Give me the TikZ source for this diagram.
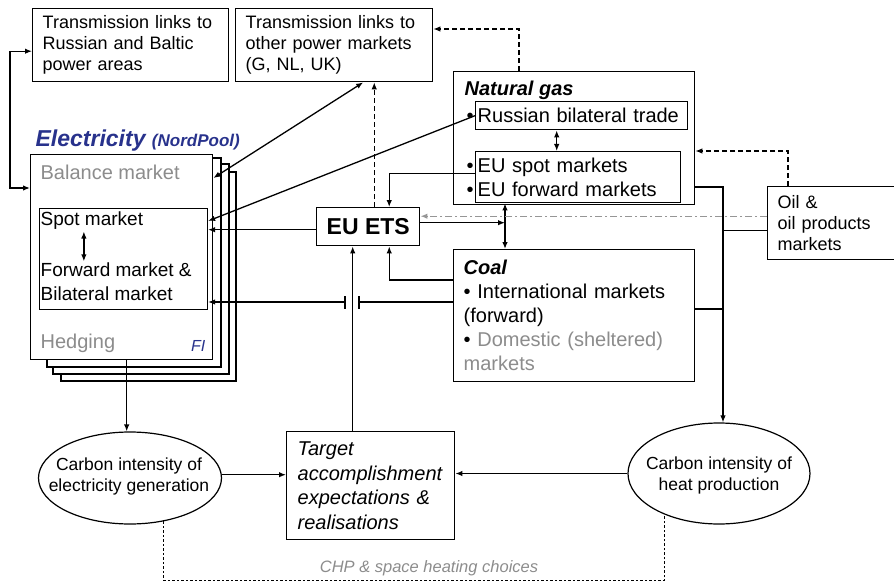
\documentclass[tikz,border=0pt]{standalone}
\usepackage{fontspec}
\setmainfont{Liberation Sans}
\usetikzlibrary{arrows.meta,shapes.geometric}

\definecolor{poolblue}{RGB}{40,50,140}
\definecolor{softgray}{RGB}{140,140,140}
\definecolor{etsgray}{RGB}{150,150,150}

\newcommand{\gasbullet}{\leavevmode\llap{\textbullet\hspace{4pt}}}

\tikzset{
  box/.style={draw,fill=white,line width=1.4pt,anchor=north west,
              inner xsep=10pt,inner ysep=0pt,align=left},
  oval/.style={draw,ellipse,line width=1.2pt,inner sep=0pt},
  hint/.style={dash pattern=on 5pt off 3pt,line width=1.1pt},
  dotline/.style={dash pattern=on 2.5pt off 2pt,line width=1.1pt},
  aside/.style={etsgray,dash pattern=on 7pt off 3pt on 2pt off 3pt,line width=1.2pt},
}

\begin{document}
\begin{tikzpicture}[x=1pt,y=-1pt,line width=1.3pt,
    >={Latex[length=7pt,width=5.5pt]},
    font=\fontsize{18pt}{21pt}\selectfont]
\useasboundingbox (0,0) rectangle (894,583);

% sheets behind the electricity box
\foreach \xa/\ya/\xb/\yb in {61/172/236/381,53/164/229/374,47/158/221/367}
  \draw[fill=white,line width=1.4pt] (\xa,\ya) rectangle (\xb,\yb);

\begin{scope}[every node/.style={box}]
    \node[minimum width=196pt,minimum height=73pt,text width=176pt] (linkRB) at (32,8)
        {Transmission links to\\Russian and Baltic\\power areas};
    \node[minimum width=197pt,minimum height=73pt,text width=177pt] (linkOther) at (235,8)
        {Transmission links to\\other power markets\\(G, NL, UK)};
    \node[minimum width=182pt,minimum height=205pt] (elec) at (30,154) {};
    \node[minimum width=168pt,minimum height=101pt,line width=1.1pt] (spotBox) at (39,208) {};
    \node[minimum width=241pt,minimum height=133pt] (gas) at (453,71) {};
    \node[minimum width=212pt,minimum height=28pt,inner xsep=2pt,text width=208pt,
          font=\fontsize{20pt}{24pt}\selectfont] (rusTrade) at (475,101)
        {\gasbullet Russian bilateral trade};
    \node[minimum width=205pt,minimum height=51pt,inner xsep=2pt,text width=201pt,
          font=\fontsize{20pt}{24pt}\selectfont] (euMkt) at (475,151)
        {\gasbullet EU spot markets\\\gasbullet EU forward markets};
    \node[minimum width=241pt,minimum height=132pt,text width=221pt,
          font=\fontsize{20pt}{24pt}\selectfont] (coal) at (453,249)
        {\textbf{\textit{Coal}}\\\textbullet\ International markets\\(forward)\\
         \textbullet\ \textcolor{softgray}{Domestic (sheltered)}\\\textcolor{softgray}{markets}};
    \node[minimum width=132pt,minimum height=73pt,text width=112pt,inner xsep=9pt] (oil) at (767,186)
        {Oil \&\\oil products\\markets};
    \node[minimum width=102pt,minimum height=38pt,align=center,
          font=\fontsize{23pt}{23pt}\selectfont\bfseries] (ets) at (316,207) {EU ETS};
    \node[minimum width=168pt,minimum height=108pt,text width=146pt,inner xsep=11pt,
          font=\fontsize{20pt}{24.5pt}\selectfont\itshape] (target) at (286,431)
        {Target\\accomplishment\\expectations \&\\realisations};
\end{scope}

\begin{scope}[every node/.style={anchor=west,inner sep=1pt}]
    \node[text=poolblue] (elecTitle) at (34,141)
        {\fontsize{23pt}{23pt}\selectfont\bfseries\itshape Electricity
         \fontsize{17pt}{17pt}\selectfont(NordPool)};
    \node[text=softgray,font=\fontsize{20pt}{24pt}\selectfont] (balance) at (39,172) {Balance market};
    \node[font=\fontsize{19pt}{24pt}\selectfont] (spot) at (39,221) {Spot market};
    \node[font=\fontsize{19pt}{24pt}\selectfont,align=left] (fwd) at (39,282)
        {Forward market \&\\Bilateral market};
    \node[text=softgray,font=\fontsize{20pt}{24pt}\selectfont] (hedge) at (39,343) {Hedging};
    \node[text=poolblue,anchor=east,font=\fontsize{16pt}{16pt}\selectfont\itshape] (fiTag) at (207,346) {FI};
    \node[font=\fontsize{20pt}{24pt}\selectfont\bfseries\itshape] (gasTitle) at (463,90) {Natural gas};
\end{scope}

\node[oval,minimum width=183pt,minimum height=92pt] (elecCI) at (130,478) {};
\node[font=\fontsize{17.5pt}{21pt}\selectfont,align=center] (elecCItxt) at (129,476)
    {Carbon intensity of\\electricity generation};
\node[oval,minimum width=182pt,minimum height=101pt] (heatCI) at (719,473.5) {};
\node[font=\fontsize{17.5pt}{21pt}\selectfont,align=center] (heatCItxt) at (719,475)
    {Carbon intensity of\\heat production};
\node[text=softgray,font=\fontsize{16.5pt}{18pt}\selectfont\itshape] (chp) at (429,568)
    {CHP \& space heating choices};

% connectors
\draw[<->] ([xshift=-8pt]spot.south) -- ([xshift=-8pt]spot.south |- fwd.north);
\draw[<->] ([yshift=-6pt]linkRB.west) -- ++(-22,0) |- ([yshift=-34pt]elec.north west);
\path[<->] ([xshift=29pt]linkOther.south) edge[draw] ([yshift=-24pt]elec.north east);
\draw[->,hint] ([xshift=6pt]ets.north) -- ([xshift=6pt]ets.north |- linkOther.south);
\draw[->,hint] ([xshift=66pt]gas.north west) |- ([yshift=-21pt]linkOther.north east);
\path[->] (rusTrade.west) edge[draw] ([yshift=-13pt]spotBox.north east);
\path[<->] ([xshift=-25pt]rusTrade.south) edge[draw] ([xshift=-25pt]rusTrade.south |- euMkt.north);
\path[->] ([yshift=-3pt]ets.west) edge[draw] ([yshift=-3pt]ets.west -| spotBox.east);
\draw[->] ([yshift=4pt]euMkt.west) -| ([xshift=21pt]ets.north);

\coordinate (gasCoal) at ([xshift=30pt]euMkt.south west);
\draw[<->] (gasCoal) -- (gasCoal |- coal.north);
\draw[->] ([yshift=4pt]ets.east) -- ([yshift=4pt]ets.east -| gasCoal);
\draw[->,aside] ([yshift=7pt]oil.west) -- ([yshift=7pt]oil.west -| ets.east);
\draw[->] ([yshift=-31pt]coal.north west) -| ([xshift=21pt]ets.south);

% coal to forward market, broken line
\coordinate (brkR) at ([xshift=-94pt,yshift=-53pt]coal.north west);
\coordinate (brkL) at ([xshift=-14pt]brkR);
\draw ([yshift=-53pt]coal.north west) -- (brkR);
\draw ([yshift=6pt]brkR) -- ([yshift=-7pt]brkR) ([yshift=6pt]brkL) -- ([yshift=-7pt]brkL);
\draw[->] (brkL) -- (brkL -| spotBox.east);

\draw[->] ([xshift=-18pt]target.north) -- ([xshift=-18pt]target.north |- ets.south);
\draw[->] ([xshift=5pt]elec.south) -- ([xshift=5pt]elec.south |- elecCI.north);
\draw[->] ([yshift=11pt]target.west -| elecCI.east) -- ([yshift=11pt]target.west);
\draw[->] (heatCI.west) -- (heatCI.west -| target.east);

\coordinate (heatBus) at ([xshift=4pt]heatCI.north);
\draw[->] ([yshift=-116pt]gas.north east) -| (heatBus);
\draw ([yshift=-60pt]coal.north east) -- ([yshift=-60pt]coal.north east -| heatBus);
\draw ([yshift=-7pt]oil.west) -- ([yshift=-7pt]oil.west -| heatBus);
\draw[->,hint] ([xshift=21pt]oil.north west) |- ([yshift=-80pt]gas.north east);

\draw[dotline] (elecCI.-52.5) -- ++(0,59) -| (heatCI.-143.5);
\end{tikzpicture}
\end{document}
